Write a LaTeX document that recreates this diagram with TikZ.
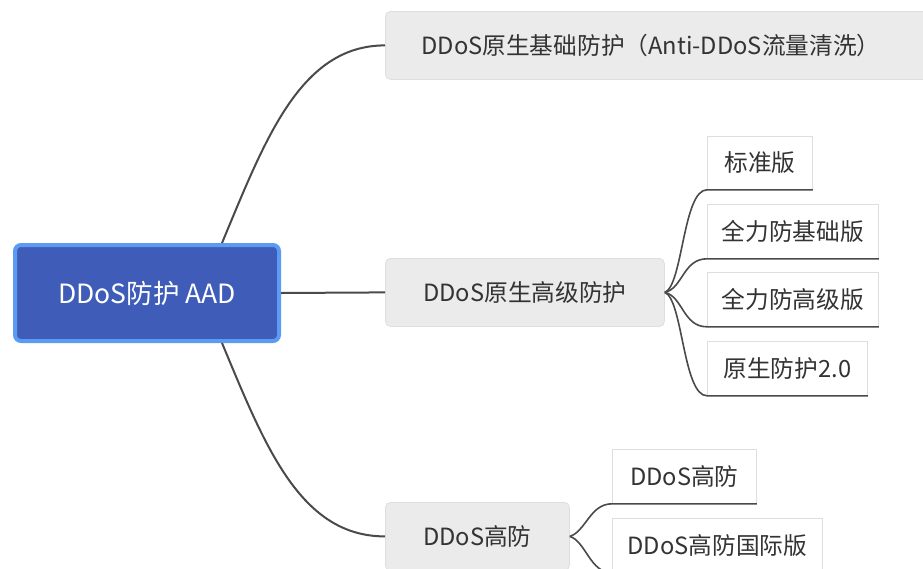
\documentclass[tikz,border=0pt]{standalone}
\usepackage{fontspec}
\setmainfont{Noto Sans CJK SC}
\definecolor{rootfill}{HTML}{3F5DB8}
\definecolor{rootline}{HTML}{5B9BF3}
\definecolor{topicfill}{HTML}{EBEBEB}
\definecolor{topicline}{HTML}{DEDEDE}
\definecolor{connc}{HTML}{4A4A4A}
\definecolor{txt}{HTML}{333333}
\tikzset{
  rootbox/.style={draw=rootline, line width=4pt, fill=rootfill, rounded corners=6pt, text=white,
    anchor=north west, inner sep=0pt, font=\fontsize{26.5}{30}\selectfont},
  topicbox/.style={draw=topicline, line width=0.8pt, fill=topicfill, rounded corners=5pt, text=txt,
    anchor=north west, inner sep=0pt, font=\fontsize{23.7}{28}\selectfont},
  subbox/.style={draw=topicline, line width=0.8pt, fill=white, text=txt,
    anchor=north west, inner sep=0pt, font=\fontsize{23.7}{28}\selectfont},
  conn/.style={draw=connc, line width=2pt},
  bconn/.style={draw=connc, line width=1.6pt}
}
\begin{document}
\begin{tikzpicture}[x=1pt,y=-1pt]
\useasboundingbox (0,0) rectangle (923,568);
\clip (0,0) rectangle (923,568);
% main nodes
\node[rootbox, minimum width=264pt, minimum height=96pt] (root) at (13,243) {DDoS防护 AAD};
\node[topicbox, minimum height=68pt, inner xsep=36pt, text width=488pt, align=left] (n1) at (385,11)
  {DDoS原生基础防护（Anti-DDoS流量清洗）};
\node[topicbox, minimum width=279pt, minimum height=68pt] (n2) at (385,258) {DDoS原生高级防护};
\node[topicbox, minimum width=184pt, minimum height=68pt] (n3) at (385,502) {DDoS高防};
% sub nodes
\node[subbox, minimum width=105pt, minimum height=53pt] (s1) at (707,136) {标准版};
\node[subbox, minimum width=171pt, minimum height=54pt] (s2) at (707,204) {全力防基础版};
\node[subbox, minimum width=171pt, minimum height=54pt] (s3) at (707,272) {全力防高级版};
\node[subbox, minimum width=160pt, minimum height=54pt] (s4) at (707,341) {原生防护2.0};
\node[subbox, minimum width=144pt, minimum height=54pt] (t1) at (612,449) {DDoS高防};
\node[subbox, minimum width=210pt, minimum height=54pt] (t2) at (612,518) {DDoS高防国际版};
% root connectors
\draw[conn] ([xshift=209pt]root.north west) .. controls +(43,-103) and +(-85,0) .. (n1.west);
\draw[conn] (root.east) -- (n2.west);
\draw[conn] ([xshift=209pt]root.south west) .. controls +(43,103) and +(-85,0) .. (n3.west);
% branch connectors of n2
\draw[bconn] (n2.east) .. controls +(18,-7) and +(-24,0) .. (s1.south west) -- (s1.south east);
\draw[bconn] (n2.east) .. controls +(18,-4) and +(-24,0) .. (s2.south west) -- (s2.south east);
\draw[bconn] (n2.east) .. controls +(18,4) and +(-24,0) .. (s3.south west) -- (s3.south east);
\draw[bconn] (n2.east) .. controls +(18,7) and +(-24,0) .. (s4.south west) -- (s4.south east);
% branch connectors of n3
\draw[bconn] (n3.east) .. controls +(16,-5) and +(-22,0) .. (t1.south west) -- (t1.south east);
\draw[bconn] (n3.east) .. controls +(16,5) and +(-22,0) .. (t2.south west) -- (t2.south east);
\end{tikzpicture}
\end{document}
